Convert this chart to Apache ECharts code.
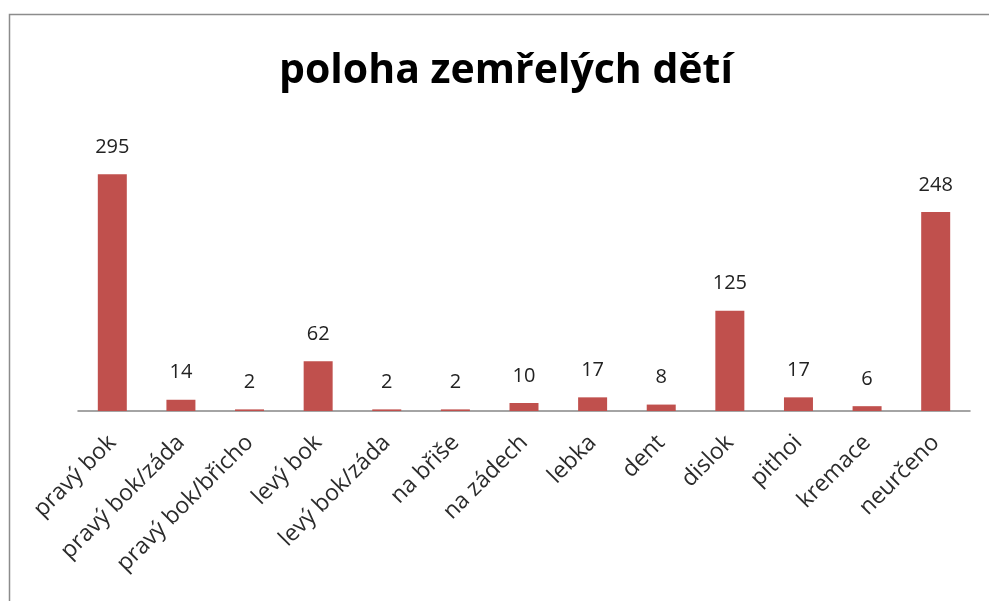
<!DOCTYPE html>
<html>
<head>
<meta charset="utf-8">
<script src="https://cdn.jsdelivr.net/npm/echarts@6/dist/echarts.min.js"></script>
<style>
	html, body { margin: 0; padding: 0; background: #fff; }
	#chart { width: 989px; height: 601px; }
</style>
</head>
<body>
<div id="chart"></div>
<script>
	// data
	const categories = ['pravý bok', 'pravý bok/záda', 'pravý bok/břicho', 'levý bok', 'levý bok/záda', 'na břiše', 'na zádech', 'lebka', 'dent', 'dislok', 'pithoi', 'kremace', 'neurčeno'];
	const counts = [295, 14, 2, 62, 2, 2, 10, 17, 8, 125, 17, 6, 248];

	const chart = echarts.init(document.getElementById('chart'));
	let option = {
		animation: false,
		title: {
			text: 'poloha zemřelých dětí',
			left: 274,
			top: 46,
			textStyle: {
				fontFamily: 'Open Sans',
				fontWeight: 'bold',
				fontSize: 41,
				color: '#000'
			}
		},
		graphic: [{
			// chart frame (cut off on right and bottom)
			type: 'rect',
			shape: { x: 9.5, y: 14.5, width: 1100, height: 700 },
			style: { fill: null, stroke: '#8c8c8c', lineWidth: 1.5 }
		}],
		grid: {
			left: 78,
			right: 19,
			top: 130,
			bottom: 190
		},
		xAxis: {
			type: 'category',
			data: categories,
			axisTick: { show: false },
			axisLine: { lineStyle: { color: '#868686', width: 1.5 } },
			axisLabel: {
				interval: 0,
				rotate: 45,
				margin: 28,
				fontFamily: 'Open Sans',
				fontSize: 23,
				color: '#2b2b2b'
			}
		},
		yAxis: {
			type: 'value',
			min: 0,
			max: 350,
			show: false,
			splitLine: { show: false }
		},
		series: [{
			type: 'bar',
			data: counts,
			barWidth: 29,
			itemStyle: { color: '#C0504D' },
			label: {
				show: true,
				position: 'top',
				distance: 17,
				fontFamily: 'Open Sans',
				fontSize: 20,
				color: '#222'
			}
		}]
	};
	chart.setOption(option);
</script>
</body>
</html>
